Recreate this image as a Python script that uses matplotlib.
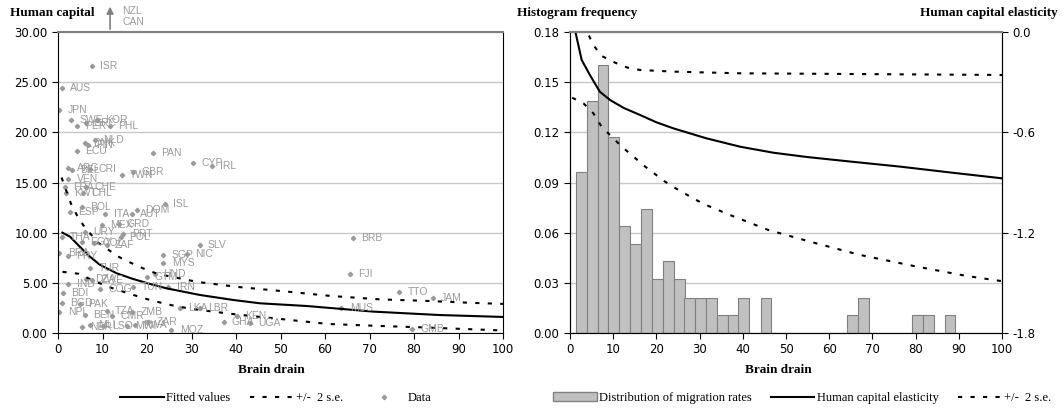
import matplotlib
matplotlib.use("Agg")
import matplotlib.pyplot as plt
from matplotlib.lines import Line2D
from matplotlib.patches import Patch
from matplotlib.ticker import FormatStrFormatter

# ---- left panel: country data (brain drain, human capital) ----
countries = ["ISR", "AUS", "JPN", "SWE", "KOR", "GRC", "PER", "PHL", "DNK", "FIN",
             "NLD", "ECU", "PAN", "CYP", "IRL", "ARG", "BEL", "CRI", "TWN", "GBR",
             "VEN", "FRA", "CHE", "KWT", "CHL", "ISL", "DOM", "BOL", "ESP", "ITA",
             "AUT", "MEX", "GRD", "URY", "THA", "PRT", "POL", "EGY", "COL", "ZAF",
             "BRA", "PRY", "SGP", "NIC", "SLV", "MYS", "TUR", "HND", "GTM", "DZA",
             "ZWE", "IND", "COG", "TUN", "IRN", "BDI", "BGD", "PAK", "NPL", "BEN",
             "TZA", "CMR", "ZMB", "LKA", "LBR", "ZAR", "NER", "MLI", "LSO", "MWI",
             "RWA", "MOZ", "GHA", "KEN", "UGA", "BRB", "FJI", "TTO", "JAM", "MUS",
             "GMB"]
brain_drain = [7.6, 0.8, 0.3, 2.9, 8.8, 6.2, 4.3, 11.7, 6.1, 6.8,
               8.3, 4.3, 21.3, 30.4, 34.5, 2.3, 3.1, 7.2, 14.3, 16.8,
               2.3, 1.6, 6.4, 1.8, 5.7, 24.0, 17.7, 5.3, 2.7, 10.6,
               16.6, 9.8, 13.6, 6.1, 0.8, 14.7, 14.2, 5.3, 8.2, 10.9,
               0.3, 2.3, 23.7, 28.9, 31.8, 23.7, 7.2, 21.8, 19.9, 6.4,
               7.6, 2.3, 9.4, 16.9, 24.8, 1.1, 0.8, 4.9, 0.3, 6.1,
               10.9, 12.1, 16.6, 27.4, 31.9, 20.3, 5.3, 7.2, 10.2, 15.4,
               17.3, 25.5, 37.2, 40.2, 43.1, 66.2, 65.6, 76.7, 84.2, 63.7,
               79.5]
human_capital = [26.6, 24.4, 22.2, 21.2, 21.2, 20.9, 20.6, 20.6, 18.9, 18.7,
                 19.2, 18.1, 17.9, 16.9, 16.6, 16.4, 16.2, 16.3, 15.7, 16.0,
                 15.3, 14.6, 14.6, 14.0, 14.0, 12.9, 12.3, 12.6, 12.1, 11.9,
                 11.9, 10.8, 10.9, 10.1, 9.6, 9.9, 9.6, 9.1, 9.0, 8.8,
                 8.0, 7.7, 7.8, 7.9, 8.8, 7.0, 6.5, 5.9, 5.6, 5.4,
                 5.3, 4.9, 4.4, 4.6, 4.6, 4.0, 3.0, 2.9, 2.1, 1.8,
                 2.2, 1.7, 2.1, 2.5, 2.5, 1.1, 0.6, 0.8, 0.7, 0.7,
                 0.8, 0.3, 1.1, 1.7, 1.0, 9.5, 5.9, 4.1, 3.5, 2.5,
                 0.4]

# fitted values and +/- 2 s.e. band
fit_x = [1.0, 2.7, 4.9, 7.2, 9.4, 13.2, 16.9, 20.7, 24.4, 31.9, 39.4, 45.4, 55.9, 70.9, 85.8, 100]
fit_y = [10.0, 9.6, 8.6, 7.6, 6.8, 5.95, 5.38, 4.89, 4.45, 3.79, 3.29, 2.96, 2.69, 2.13, 1.79, 1.6]
up_x = [0.8, 2.9, 4.3, 5.9, 9.0, 13.6, 16.6, 19.6, 22.3, 31.2, 40.2, 52.1, 61.1, 72.4, 82.8, 93.3, 100]
up_y = [15.5, 12.9, 11.7, 10.6, 9.0, 7.6, 6.95, 6.35, 5.9, 5.1, 4.6, 4.1, 3.7, 3.35, 3.2, 3.0, 2.9]
lo_x = [1.0, 4.7, 8.0, 12.0, 16.2, 19.3, 22.2, 25.3, 30.0, 40.0, 52.1, 60.7, 72.4, 81.3, 97.1, 100]
lo_y = [6.1, 5.9, 5.2, 4.5, 3.9, 3.46, 3.12, 2.79, 2.4, 1.85, 1.3, 0.9, 0.7, 0.57, 0.3, 0.25]

# ---- right panel: histogram of migration rates ----
hist_start = [1.4, 3.9, 6.4, 8.9, 11.4, 14.0, 16.5, 19.0, 21.5, 24.0, 26.5, 29.0, 31.5,
              34.0, 36.5, 39.0, 44.1, 64.2, 66.7, 79.2, 81.7, 86.7]
hist_freq = [0.096, 0.139, 0.160, 0.117, 0.064, 0.053, 0.074, 0.032, 0.043, 0.032, 0.021,
             0.021, 0.021, 0.011, 0.011, 0.021, 0.021, 0.011, 0.021, 0.011, 0.011, 0.011]
bin_width = 2.51

# human capital elasticity and +/- 2 s.e.
el_x = [1.0, 2.7, 4.6, 6.9, 9.3, 12.5, 16.2, 20.0, 23.9, 31.6, 39.4, 47.1, 55.0, 65.0, 76.4, 88.0, 100]
el_y = [0.03, -0.167, -0.257, -0.357, -0.407, -0.455, -0.496, -0.54, -0.576, -0.636, -0.686,
        -0.722, -0.748, -0.775, -0.805, -0.84, -0.875]
el_up_x = [3.5, 4.0, 5.4, 7.3, 10.4, 13.3, 16.2, 23.9, 39.4, 57.9, 100]
el_up_y = [0.05, 0.0, -0.078, -0.143, -0.183, -0.213, -0.227, -0.237, -0.247, -0.25, -0.257]
el_lo_x = [0.5, 3.1, 5.4, 7.3, 12.0, 17.4, 22.0, 25.1, 30.9, 37.0, 45.9, 55.6, 67.1, 79.5, 91.8, 100]
el_lo_y = [-0.393, -0.426, -0.486, -0.566, -0.686, -0.805, -0.895, -0.945, -1.028, -1.094,
           -1.184, -1.254, -1.333, -1.399, -1.459, -1.49]

GRAY = "#9a9a9a"
GRID = "#c8c8c8"
DASH = (0, (2, 4))
SERIF = "Liberation Serif"


def style_axes(ax):
    ax.spines["top"].set_color("#808080")
    ax.spines["top"].set_linewidth(1.5)
    for s in ["left", "bottom", "right"]:
        ax.spines[s].set_color("black")
    ax.tick_params(direction="out", length=4, labelsize=8.5, colors="black")


def main():
    fig = plt.figure(figsize=(10.64, 4.09), dpi=100)
    ax1 = fig.add_axes([58 / 1064, 1 - 333 / 409, 445 / 1064, 301 / 409])
    ax2 = fig.add_axes([570 / 1064, 1 - 333 / 409, 432 / 1064, 301 / 409])
    ax3 = ax2.twinx()

    # left panel
    ax1.set_xlim(0, 100)
    ax1.set_ylim(0, 30)
    ax1.set_xticks(range(0, 101, 10))
    ax1.set_yticks(range(0, 31, 5))
    ax1.yaxis.set_major_formatter(FormatStrFormatter("%.2f"))
    ax1.yaxis.grid(True, color=GRID, lw=1)
    ax1.set_axisbelow(True)
    style_axes(ax1)

    ax1.plot(brain_drain, human_capital, ls="none", marker="D", ms=2.2, color=GRAY)
    for c, x, y in zip(countries, brain_drain, human_capital):
        ax1.annotate(c, (x, y), xytext=(6, 0), textcoords="offset points",
                     ha="left", va="center", fontsize=7.5, color=GRAY,
                     family="Liberation Sans")
    ax1.plot(fit_x, fit_y, color="black", lw=1.5)
    ax1.plot(up_x, up_y, color="black", lw=1.5, ls=DASH)
    ax1.plot(lo_x, lo_y, color="black", lw=1.5, ls=DASH)

    # NZL / CAN are off the scale
    ax1.annotate("", xy=(11.7, 32.8), xytext=(11.7, 30),
                 arrowprops=dict(arrowstyle="-|>", color="#808080", lw=1.2),
                 annotation_clip=False)
    ax1.text(14.4, 32.1, "NZL", fontsize=7.5, color=GRAY, va="center",
             family="Liberation Sans")
    ax1.text(14.4, 31.0, "CAN", fontsize=7.5, color=GRAY, va="center",
             family="Liberation Sans")

    # right panel
    ax2.set_xlim(0, 100)
    ax2.set_ylim(0, 0.18)
    ax2.set_xticks(range(0, 101, 10))
    ax2.set_yticks([0, 0.03, 0.06, 0.09, 0.12, 0.15, 0.18])
    ax2.yaxis.set_major_formatter(FormatStrFormatter("%.2f"))
    ax2.yaxis.grid(True, color=GRID, lw=1)
    ax2.set_axisbelow(True)
    style_axes(ax2)
    ax2.bar(hist_start, hist_freq, width=bin_width, align="edge",
            color="#c0c0c0", edgecolor="#808080", lw=0.8)

    ax3.set_ylim(-1.8, 0)
    ax3.set_yticks([0, -0.6, -1.2, -1.8])
    ax3.yaxis.set_major_formatter(FormatStrFormatter("%.1f"))
    style_axes(ax3)
    ax3.plot(el_x, el_y, color="black", lw=1.5)
    ax3.plot(el_up_x, el_up_y, color="black", lw=1.5, ls=DASH)
    ax3.plot(el_lo_x, el_lo_y, color="black", lw=1.5, ls=DASH)

    # axis titles
    bold = dict(family=SERIF, weight="bold", fontsize=9.5)
    fig.text(10 / 1064, 1 - 13 / 409, "Human capital", ha="left", va="center", **bold)
    fig.text(517 / 1064, 1 - 13 / 409, "Histogram frequency", ha="left", va="center", **bold)
    fig.text(1058 / 1064, 1 - 13 / 409, "Human capital elasticity", ha="right", va="center", **bold)
    fig.text(271 / 1064, 1 - 370 / 409, "Brain drain", ha="center", va="center", **bold)
    fig.text(778 / 1064, 1 - 370 / 409, "Brain drain", ha="center", va="center", **bold)

    # legends
    h_left = [Line2D([], [], color="black", lw=1.5),
              Line2D([], [], color="black", lw=1.5, ls=DASH),
              Line2D([], [], ls="none", marker="D", ms=2.2, color=GRAY)]
    fig.legend(h_left, ["Fitted values", "+/-  2 s.e.", "Data"], loc="center",
               bbox_to_anchor=(276 / 1064, 1 - 398 / 409), ncol=3, frameon=False,
               prop={"family": SERIF, "size": 9}, handlelength=3.5,
               handletextpad=0.2, columnspacing=1.5)
    h_right = [Patch(facecolor="#c0c0c0", edgecolor="#808080"),
               Line2D([], [], color="black", lw=1.5),
               Line2D([], [], color="black", lw=1.5, ls=DASH)]
    fig.legend(h_right, ["Distribution of migration rates", "Human capital elasticity",
                         "+/-  2 s.e."], loc="center",
               bbox_to_anchor=(802 / 1064, 1 - 398 / 409), ncol=3, frameon=False,
               prop={"family": SERIF, "size": 9}, handlelength=3.5,
               handletextpad=0.2, columnspacing=1.5)

    fig.savefig("out.png", dpi=100)


if __name__ == "__main__":
    main()
